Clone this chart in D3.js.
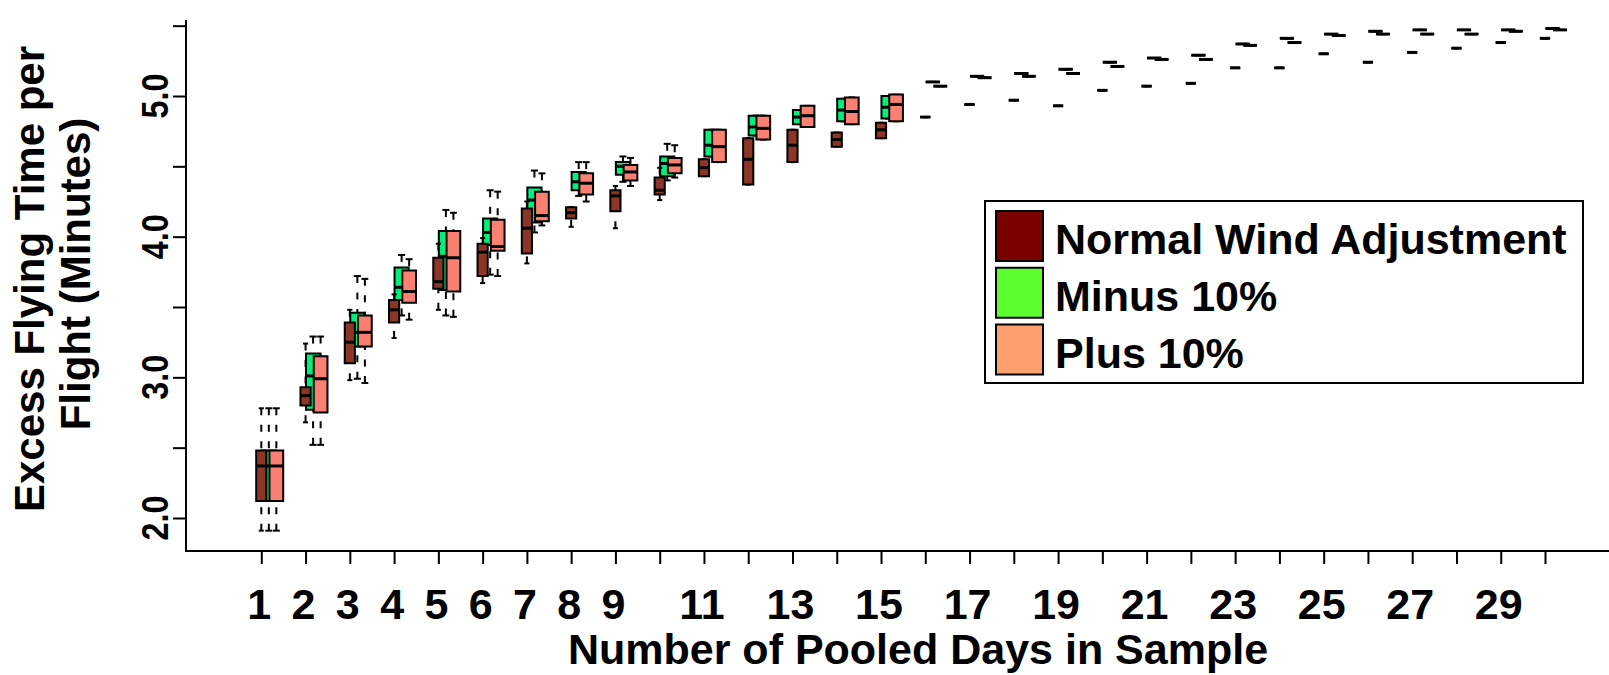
<!DOCTYPE html>
<html>
<head>
<meta charset="utf-8">
<script src="https://cdn.jsdelivr.net/npm/d3@7"></script>
<style>
  html, body { margin: 0; padding: 0; background: #fff; }
  svg { display: block; }
  text { font-family: "Liberation Sans", Arial, Helvetica, sans-serif; font-weight: bold; fill: #000; }
</style>
</head>
<body>
<svg id="chart" width="1609" height="675"></svg>
<script>
// ---------------- data ----------------
const days = d3.range(1, 31);
const xTickLabels = [1, 2, 3, 4, 5, 6, 7, 8, 9, 11, 13, 15, 17, 19, 21, 23, 25, 27, 29];
const yTicks = [2.0, 2.5, 3.0, 3.5, 4.0, 4.5, 5.0, 5.5];
const yTickLabels = [2.0, 3.0, 4.0, 5.0];
const seriesNames = ["Normal Wind Adjustment", "Minus 10%", "Plus 10%"];

// [lower whisker, Q1, median, Q3, upper whisker] per pooled-day count
const normalWind = [
  [1.91, 2.12, 2.37, 2.48, 2.78], [2.68, 2.80, 2.87, 2.93, 3.24], [2.98, 3.10, 3.25, 3.39, 3.48],
  [3.28, 3.39, 3.48, 3.55, 3.59], [3.48, 3.63, 3.68, 3.85, 3.95], [3.67, 3.72, 3.89, 3.95, 3.99],
  [3.81, 3.88, 4.06, 4.20, 4.25], [4.07, 4.13, 4.17, 4.21, 4.21], [4.06, 4.18, 4.29, 4.33, 4.36],
  [4.26, 4.30, 4.33, 4.42, 4.49], [4.43, 4.43, 4.49, 4.55, 4.55], [4.37, 4.37, 4.55, 4.70, 4.70],
  [4.53, 4.53, 4.65, 4.76, 4.76], [4.64, 4.64, 4.69, 4.74, 4.74], [4.70, 4.70, 4.76, 4.81, 4.81],
  [4.85, 4.85, 4.85, 4.85, 4.85], [4.94, 4.94, 4.94, 4.94, 4.94], [4.97, 4.97, 4.97, 4.97, 4.97],
  [4.93, 4.93, 4.93, 4.93, 4.93], [5.04, 5.04, 5.04, 5.04, 5.04], [5.07, 5.07, 5.07, 5.07, 5.07],
  [5.09, 5.09, 5.09, 5.09, 5.09], [5.20, 5.20, 5.20, 5.20, 5.20], [5.20, 5.20, 5.20, 5.20, 5.20],
  [5.30, 5.30, 5.30, 5.30, 5.30], [5.24, 5.24, 5.24, 5.24, 5.24], [5.31, 5.31, 5.31, 5.31, 5.31],
  [5.34, 5.34, 5.34, 5.34, 5.34], [5.38, 5.38, 5.38, 5.38, 5.38], [5.41, 5.41, 5.41, 5.41, 5.41]
];
const minus10 = [
  [1.91, 2.12, 2.37, 2.48, 2.78], [2.52, 2.77, 3.01, 3.17, 3.29], [2.99, 3.22, 3.32, 3.46, 3.72],
  [3.44, 3.55, 3.64, 3.78, 3.87], [3.44, 3.62, 3.86, 4.04, 4.19], [3.73, 3.94, 4.03, 4.13, 4.33],
  [4.03, 4.10, 4.26, 4.35, 4.47], [4.29, 4.33, 4.39, 4.46, 4.53], [4.39, 4.44, 4.50, 4.53, 4.57],
  [4.40, 4.43, 4.52, 4.57, 4.66], [4.57, 4.57, 4.65, 4.76, 4.76], [4.72, 4.72, 4.78, 4.86, 4.86],
  [4.80, 4.80, 4.85, 4.90, 4.90], [4.82, 4.82, 4.90, 4.98, 4.98], [4.84, 4.84, 4.92, 5.00, 5.00],
  [5.10, 5.10, 5.10, 5.10, 5.10], [5.14, 5.14, 5.14, 5.14, 5.14], [5.16, 5.16, 5.16, 5.16, 5.16],
  [5.19, 5.19, 5.19, 5.19, 5.19], [5.24, 5.24, 5.24, 5.24, 5.24], [5.27, 5.27, 5.27, 5.27, 5.27],
  [5.29, 5.29, 5.29, 5.29, 5.29], [5.37, 5.37, 5.37, 5.37, 5.37], [5.41, 5.41, 5.41, 5.41, 5.41],
  [5.44, 5.44, 5.44, 5.44, 5.44], [5.46, 5.46, 5.46, 5.46, 5.46], [5.47, 5.47, 5.47, 5.47, 5.47],
  [5.47, 5.47, 5.47, 5.47, 5.47], [5.47, 5.47, 5.47, 5.47, 5.47], [5.48, 5.48, 5.48, 5.48, 5.48]
];
const plus10 = [
  [1.91, 2.12, 2.37, 2.48, 2.78], [2.52, 2.75, 2.99, 3.15, 3.29], [2.96, 3.22, 3.32, 3.44, 3.70],
  [3.41, 3.53, 3.61, 3.76, 3.84], [3.43, 3.61, 3.85, 4.04, 4.17], [3.72, 3.90, 3.93, 4.12, 4.32],
  [4.08, 4.11, 4.15, 4.32, 4.45], [4.25, 4.30, 4.38, 4.45, 4.53], [4.36, 4.40, 4.46, 4.51, 4.56],
  [4.42, 4.45, 4.51, 4.56, 4.65], [4.53, 4.53, 4.64, 4.76, 4.76], [4.69, 4.69, 4.77, 4.86, 4.86],
  [4.78, 4.78, 4.86, 4.93, 4.93], [4.80, 4.80, 4.89, 4.99, 4.99], [4.82, 4.82, 4.94, 5.01, 5.01],
  [5.07, 5.07, 5.07, 5.07, 5.07], [5.13, 5.13, 5.13, 5.13, 5.13], [5.14, 5.14, 5.14, 5.14, 5.14],
  [5.16, 5.16, 5.16, 5.16, 5.16], [5.21, 5.21, 5.21, 5.21, 5.21], [5.26, 5.26, 5.26, 5.26, 5.26],
  [5.26, 5.26, 5.26, 5.26, 5.26], [5.36, 5.36, 5.36, 5.36, 5.36], [5.38, 5.38, 5.38, 5.38, 5.38],
  [5.43, 5.43, 5.43, 5.43, 5.43], [5.44, 5.44, 5.44, 5.44, 5.44], [5.44, 5.44, 5.44, 5.44, 5.44],
  [5.44, 5.44, 5.44, 5.44, 5.44], [5.46, 5.46, 5.46, 5.46, 5.46], [5.47, 5.47, 5.47, 5.47, 5.47]
];

// ---------------- layout ----------------
const svg = d3.select("#chart");
svg.append("rect").attr("width", 1609).attr("height", 675).attr("fill", "#fff");

const x = d3.scaleLinear().domain([1, 30]).range([261.3, 1545]);
const y = d3.scaleLinear().domain([2, 5]).range([518, 96]);
const axisX0 = 186, axisY0 = 551;

// draw order: green, brown, salmon (brown sits over green, salmon over both)
const seriesCfg = [
  { data: minus10,    fill: "#00f07a", off: 0.17, w: 0.32 },
  { data: normalWind, fill: "#8b3626", off: 0.00, w: 0.23 },
  { data: plus10,     fill: "#fa8072", off: 0.34, w: 0.31 }
];

const plot = svg.append("g");
seriesCfg.forEach(s => {
  const g = plot.append("g");
  s.data.forEach((st, i) => {
    const [lo, q1, med, q3, hi] = st;
    const cx = x(days[i] + s.off);
    const half = (x(1 + s.w) - x(1)) / 2;
    const st2 = half / 2;
    if (hi > q3) {
      g.append("line").attr("x1", cx).attr("x2", cx).attr("y1", y(hi)).attr("y2", y(q3))
        .attr("stroke", "#000").attr("stroke-width", 2).attr("stroke-dasharray", "7,9.5");
    }
    if (lo < q1) {
      g.append("line").attr("x1", cx).attr("x2", cx).attr("y1", y(lo)).attr("y2", y(q1))
        .attr("stroke", "#000").attr("stroke-width", 2).attr("stroke-dasharray", "7,9.5");
    }
    [hi, lo].forEach(v => {
      g.append("line").attr("x1", cx - st2).attr("x2", cx + st2).attr("y1", y(v)).attr("y2", y(v))
        .attr("stroke", "#000").attr("stroke-width", 2);
    });
    g.append("path")
      .attr("d", `M${cx - half},${y(q3)}H${cx + half}V${y(q1)}H${cx - half}Z`)
      .attr("fill", s.fill).attr("stroke", "#000").attr("stroke-width", 2)
      .attr("stroke-linejoin", "miter");
    g.append("line").attr("x1", cx - half).attr("x2", cx + half).attr("y1", y(med)).attr("y2", y(med))
      .attr("stroke", "#000").attr("stroke-width", 3);
  });
});

// ---------------- axes ----------------
const axes = svg.append("g").attr("stroke", "#000").attr("stroke-width", 2).attr("fill", "none");
axes.append("path").attr("d", `M${axisX0},20V${axisY0}H1609`);

const yAxis = d3.axisLeft(y).tickValues(yTicks).tickSize(13).tickFormat("");
const gy = svg.append("g").attr("transform", `translate(${axisX0},0)`).call(yAxis);
gy.select(".domain").remove();
gy.selectAll(".tick line").attr("stroke", "#000").attr("stroke-width", 2);

yTickLabels.forEach(v => {
  svg.append("text")
    .attr("transform", `translate(168,${y(v)}) rotate(-90)`)
    .attr("text-anchor", "middle")
    .attr("font-size", 36)
    .attr("textLength", 45).attr("lengthAdjust", "spacingAndGlyphs")
    .text(d3.format(".1f")(v));
});

const xAxis = d3.axisBottom(x).tickValues(days).tickSize(13).tickFormat("");
const gx = svg.append("g").attr("transform", `translate(0,${axisY0})`).call(xAxis);
gx.select(".domain").remove();
gx.selectAll(".tick line").attr("stroke", "#000").attr("stroke-width", 2);

xTickLabels.forEach(d => {
  svg.append("text")
    .attr("x", x(d) - 2).attr("y", 619)
    .attr("text-anchor", "middle")
    .attr("font-size", 43)
    .text(d);
});

svg.append("text")
  .attr("x", 918).attr("y", 664)
  .attr("text-anchor", "middle").attr("font-size", 43)
  .text("Number of Pooled Days in Sample");

svg.append("text")
  .attr("transform", `translate(44,279) rotate(-90)`)
  .attr("text-anchor", "middle").attr("font-size", 42)
  .text("Excess Flying Time per");
svg.append("text")
  .attr("transform", `translate(90,274) rotate(-90)`)
  .attr("text-anchor", "middle").attr("font-size", 42)
  .text("Flight (Minutes)");

// ---------------- legend ----------------
const legendFill = ["#7a0000", "#5cff2e", "#ff9f6e"];
const lg = svg.append("g");
lg.append("rect").attr("x", 985).attr("y", 201).attr("width", 598).attr("height", 182)
  .attr("fill", "#fff").attr("stroke", "#000").attr("stroke-width", 2);
const rowY = d3.scalePoint().domain(seriesNames).range([236, 349.5]);
seriesNames.forEach((n, i) => {
  const cy = rowY(n);
  lg.append("rect").attr("x", 996).attr("y", cy - 25).attr("width", 47).attr("height", 50)
    .attr("fill", legendFill[i]).attr("stroke", "#000").attr("stroke-width", 2);
  lg.append("text").attr("x", 1055).attr("y", cy + 18).attr("font-size", 43).text(n);
});
</script>
</body>
</html>
